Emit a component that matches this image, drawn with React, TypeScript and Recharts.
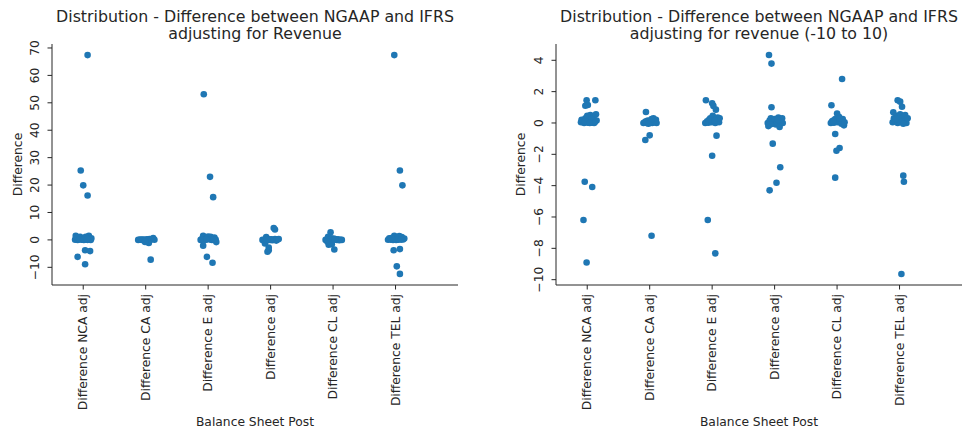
import React from 'react';
import { ScatterChart, Scatter, XAxis, YAxis } from 'recharts';

const CATEGORIES = [
  'Difference NCA adj',
  'Difference CA adj',
  'Difference E adj',
  'Difference adj',
  'Difference CL adj',
  'Difference TEL adj',
];

const CATEGORY_TICKS = [0, 1, 2, 3, 4, 5];
const FULL_TICKS = [-10, 0, 10, 20, 30, 40, 50, 60, 70];
const ZOOM_TICKS = [-10, -8, -6, -4, -2, 0, 2, 4];

const TITLE_FULL = ['Distribution - Difference between NGAAP and IFRS', 'adjusting for Revenue'];
const TITLE_ZOOM = ['Distribution - Difference between NGAAP and IFRS', 'adjusting for revenue (-10 to 10)'];
const X_LABEL = 'Balance Sheet Post';
const Y_LABEL = 'Difference';

// Each point: [strip jitter within the category, difference value]
type Pt = [number, number];

// ---- full range panel ----
const ncaFull: Pt[] = [
  [0.07, 67.4], [-0.04, 25.3], [0.0, 19.9], [0.07, 16.2], [0.03, -3.75], [0.11, -4.09], [-0.09, -6.19], [0.03, -8.9],
  [-0.13, 0.05], [-0.11, 0.3], [-0.09, 0.0], [-0.07, 0.5], [-0.05, 1.1], [-0.03, 0.1], [-0.01, 0.2], [0.01, 0.0],
  [0.03, 0.45], [0.05, 0.12], [0.07, 0.02], [0.09, 1.45], [0.11, 0.25], [0.13, 0.55], [-0.12, 1.45], [-0.02, 0.35],
  [0.04, 1.15], [0.08, 0.08], [0.12, 0.0], [-0.06, 0.15], [0.0, 0.05], [0.06, 0.3],
];
const caFull: Pt[] = [
  [0.08, -7.2],
  [-0.12, 0.0], [-0.1, 0.05], [-0.08, 0.1], [-0.06, 0.0], [-0.04, 0.15], [-0.02, 0.02], [0.0, -0.05], [0.02, 0.2],
  [0.04, 0.0], [0.06, 0.3], [0.08, 0.1], [0.1, 0.25], [0.12, 0.7], [0.14, 0.05], [0.05, -1.09], [-0.01, -0.79],
];
const eFull: Pt[] = [
  [-0.07, 53.1], [0.03, 23.0], [0.08, 15.6], [-0.08, -2.09], [-0.02, -6.19], [0.07, -8.32],
  [-0.12, 0.0], [-0.1, 0.3], [-0.08, 1.45], [-0.06, 0.1], [-0.04, 0.05], [-0.02, 0.45], [0.0, 1.26], [0.02, 0.2],
  [0.04, 1.09], [0.06, 0.0], [0.08, 0.35], [0.1, 0.85], [0.12, 0.1], [0.13, -0.81], [-0.09, 0.02], [0.05, 0.25],
  [-0.03, 0.15], [0.09, 0.05],
];
const adjFull: Pt[] = [
  [0.05, 4.34], [0.07, 3.79], [-0.09, -1.32], [-0.03, -2.83], [-0.03, -3.81], [-0.05, -4.3],
  [-0.13, 0.0], [-0.11, -0.2], [-0.09, 0.15], [-0.07, 1.0], [-0.05, 0.3], [-0.03, -0.05], [-0.01, 0.1], [0.01, 0.25],
  [0.03, -0.1], [0.05, 0.05], [0.07, 0.35], [0.09, -0.25], [0.11, 0.1], [0.13, 0.3], [0.0, 0.0], [-0.06, -0.1],
];
const clFull: Pt[] = [
  [-0.04, 2.81], [0.02, -3.49], [-0.07, -1.77], [-0.02, -1.6],
  [-0.12, 0.0], [-0.1, 0.1], [-0.08, 1.13], [-0.06, 0.05], [-0.04, 0.25], [-0.02, 0.6], [0.0, 0.02], [0.02, 0.4],
  [0.04, 0.15], [0.06, -0.05], [0.08, 0.25], [0.1, -0.15], [0.12, 0.05], [0.14, 0.0], [-0.09, -0.7], [0.03, 0.3],
];
const telFull: Pt[] = [
  [-0.02, 67.4], [0.07, 25.3], [0.11, 19.9], [-0.03, -3.75], [0.07, -3.36], [0.02, -9.64], [0.07, -12.4],
  [-0.12, 0.05], [-0.1, 0.6], [-0.08, 0.1], [-0.06, 0.3], [-0.04, 0.0], [-0.02, 1.45], [0.0, 0.2], [0.02, 0.55],
  [0.04, 0.05], [0.06, 1.36], [0.08, 0.35], [0.1, 1.04], [0.12, 0.15], [0.14, 0.5], [0.01, 0.0], [0.05, 0.25],
  [-0.07, 0.68], [0.09, 0.1],
];

// ---- -10 to 10 panel ----
const ncaZoom: Pt[] = [
  [-0.01, 1.45], [0.13, 1.45], [-0.03, 1.1], [0.01, 1.15], [-0.04, -3.75], [0.08, -4.09], [-0.06, -6.19], [-0.01, -8.9],
  [-0.1, 0.05], [-0.07, 0.12], [-0.05, 0.0], [-0.03, 0.3], [-0.01, 0.08], [0.01, 0.02], [0.03, 0.2], [0.05, 0.5],
  [0.06, 0.1], [0.08, 0.02], [0.1, 0.35], [0.12, 0.05], [0.14, 0.55], [0.15, 0.15], [-0.09, 0.2], [0.0, 0.45],
  [0.07, 0.25], [-0.04, 0.1], [0.11, 0.0], [0.04, 0.0],
];
const caZoom: Pt[] = [
  [-0.06, 0.7], [0.0, -0.79], [-0.07, -1.09], [0.03, -7.2],
  [-0.1, 0.0], [-0.08, 0.05], [-0.05, 0.0], [-0.03, 0.15], [0.0, 0.02], [0.02, 0.1], [0.04, 0.0], [0.06, 0.3],
  [0.08, 0.05], [0.1, 0.2], [0.11, 0.0], [-0.06, 0.1], [0.03, 0.25], [-0.02, -0.05],
];
const eZoom: Pt[] = [
  [-0.1, 1.45], [0.0, 1.26], [0.02, 1.09], [0.06, 0.85], [0.07, -0.81], [0.0, -2.09], [-0.07, -6.19], [0.05, -8.32],
  [-0.11, 0.0], [-0.08, 0.1], [-0.06, 0.02], [-0.03, 0.3], [-0.01, 0.05], [0.01, 0.45], [0.03, 0.1], [0.05, 0.0],
  [0.07, 0.25], [0.09, 0.35], [0.11, 0.05], [0.12, 0.3], [-0.05, 0.2], [0.04, 0.15],
];
const adjZoom: Pt[] = [
  [-0.09, 4.34], [-0.05, 3.79], [-0.05, 1.0], [-0.03, -1.32], [0.09, -2.83], [0.03, -3.81], [-0.08, -4.3],
  [-0.11, 0.0], [-0.1, -0.2], [-0.08, 0.15], [-0.06, 0.3], [-0.04, -0.05], [-0.02, 0.1], [0.0, 0.25], [0.02, -0.1],
  [0.04, 0.05], [0.06, 0.35], [0.08, -0.25], [0.1, 0.1], [0.12, 0.3], [0.13, 0.0], [0.05, 0.2], [-0.07, -0.1],
];
const clZoom: Pt[] = [
  [0.08, 2.81], [-0.09, 1.13], [-0.03, -0.7], [0.04, -1.6], [-0.01, -1.77], [-0.03, -3.49],
  [-0.1, 0.0], [-0.08, 0.1], [-0.05, 0.02], [-0.03, 0.25], [0.0, 0.6], [0.01, 0.05], [0.03, 0.4], [0.05, 0.15],
  [0.07, -0.05], [0.09, 0.25], [0.11, -0.15], [0.12, 0.05], [-0.06, 0.15], [0.04, 0.3],
];
const telZoom: Pt[] = [
  [-0.03, 1.45], [0.01, 1.36], [0.04, 1.04], [-0.1, 0.68], [0.06, -3.36], [0.07, -3.75], [0.03, -9.64],
  [-0.11, 0.05], [-0.09, 0.3], [-0.07, 0.1], [-0.05, 0.45], [-0.03, 0.0], [-0.01, 0.2], [0.01, 0.55], [0.03, 0.05],
  [0.05, 0.35], [0.07, 0.15], [0.09, 0.5], [0.11, 0.0], [0.13, 0.3], [0.0, 0.1], [0.06, -0.05], [-0.06, 0.25],
];

const FULL_SERIES = [ncaFull, caFull, eFull, adjFull, clFull, telFull];
const ZOOM_SERIES = [ncaZoom, caZoom, eZoom, adjZoom, clZoom, telZoom];

const toPoints = (series: Pt[][]) =>
  series.flatMap((pts, i) => pts.map(([dx, v]) => ({ x: i + dx, y: v })));

const FONT = 'DejaVu Sans, sans-serif';
const TEXT = '#262626';
const AXIS = '#262626';
const DOT = '#1f77b4';
const AXIS_FONT = 12.3;
const TITLE_FONT = 15.8;

const fmtNum = (v: number) => (v < 0 ? `\u2212${Math.abs(v)}` : `${v}`);

const XTick = (props: any) => {
  const { x, y, payload } = props;
  const y0 = y + 2.5;
  return (
    <text
      x={x}
      y={y0}
      transform={`rotate(-90 ${x} ${y0})`}
      textAnchor="end"
      dominantBaseline="central"
      fontFamily={FONT}
      fontSize={AXIS_FONT}
      fill={TEXT}
    >
      {CATEGORIES[payload.value]}
    </text>
  );
};

const YTick = (props: any) => {
  const { x, y, payload } = props;
  const cx = x - 10;
  return (
    <text
      x={cx}
      y={y}
      transform={`rotate(-90 ${cx} ${y})`}
      textAnchor="middle"
      dominantBaseline="central"
      fontFamily={FONT}
      fontSize={AXIS_FONT}
      fill={TEXT}
    >
      {fmtNum(payload.value)}
    </text>
  );
};

const yLabel = (dx: number) => (props: any) => {
  const vb = props.viewBox || {};
  const x = (vb.x ?? 0) + dx;
  const y = (vb.y ?? 0) + (vb.height ?? 0) / 2;
  return (
    <text
      x={x}
      y={y}
      transform={`rotate(-90 ${x} ${y})`}
      textAnchor="middle"
      dominantBaseline="central"
      fontFamily={FONT}
      fontSize={AXIS_FONT}
      fill={TEXT}
    >
      {Y_LABEL}
    </text>
  );
};

const Dot = (props: any) => <circle cx={props.cx} cy={props.cy} r={3.3} fill={DOT} />;

type PanelProps = {
  left: number;
  width: number;
  yAxisWidth: number;
  rightMargin: number;
  domain: [number, number];
  ticks: number[];
  series: Pt[][];
  title: string[];
  yLabelX: number;
};

const Panel = ({ left, width, yAxisWidth, rightMargin, domain, ticks, series, title, yLabelX }: PanelProps) => {
  const data = toPoints(series);
  const plotLeft = yAxisWidth;
  const plotRight = width - rightMargin;
  return (
    <div style={{ position: 'absolute', left, top: 0, width, height: 429 }}>
      <div
        style={{
          position: 'absolute',
          left: plotLeft - 60,
          width: plotRight - plotLeft + 120,
          top: 7.5,
          textAlign: 'center',
          fontFamily: FONT,
          fontSize: TITLE_FONT,
          lineHeight: '17px',
          color: TEXT,
          whiteSpace: 'pre',
        }}
      >
        {title.join('\n')}
      </div>
      <div style={{ position: 'absolute', left: 0, top: 0 }}>
        <ScatterChart width={width} height={429} margin={{ top: 44, right: rightMargin, bottom: 0, left: 0 }}>
          <XAxis
            type="number"
            dataKey="x"
            domain={[-0.5, 5.5]}
            ticks={CATEGORY_TICKS}
            interval={0}
            height={144}
            tick={<XTick />}
            tickSize={4.5}
            axisLine={{ stroke: AXIS, strokeWidth: 1 }}
            tickLine={{ stroke: AXIS, strokeWidth: 1 }}
            allowDecimals={false}
            label={{ value: X_LABEL, position: 'insideBottom', offset: 3, fill: TEXT, fontSize: AXIS_FONT, fontFamily: FONT }}
          />
          <YAxis
            type="number"
            dataKey="y"
            domain={domain}
            ticks={ticks}
            interval={0}
            width={yAxisWidth}
            tick={<YTick />}
            tickSize={4.5}
            axisLine={{ stroke: AXIS, strokeWidth: 1 }}
            tickLine={{ stroke: AXIS, strokeWidth: 1 }}
            allowDataOverflow
            label={{ content: yLabel(yLabelX) } as any}
          />
          <Scatter data={data} shape={<Dot />} isAnimationActive={false} />
        </ScatterChart>
      </div>
    </div>
  );
};

export default function App() {
  return (
    <div
      style={{
        position: 'absolute',
        left: 0,
        top: 0,
        width: 968,
        height: 429,
        background: '#ffffff',
        overflow: 'hidden',
      }}
    >
      <Panel
        left={0}
        width={480}
        yAxisWidth={52}
        rightMargin={22}
        domain={[-16.45, 71.45]}
        ticks={FULL_TICKS}
        series={FULL_SERIES}
        title={TITLE_FULL}
        yLabelX={18}
      />
      <Panel
        left={484}
        width={484}
        yAxisWidth={72}
        rightMargin={6}
        domain={[-10.34, 5.04]}
        ticks={ZOOM_TICKS}
        series={ZOOM_SERIES}
        title={TITLE_ZOOM}
        yLabelX={37}
      />
    </div>
  );
}
